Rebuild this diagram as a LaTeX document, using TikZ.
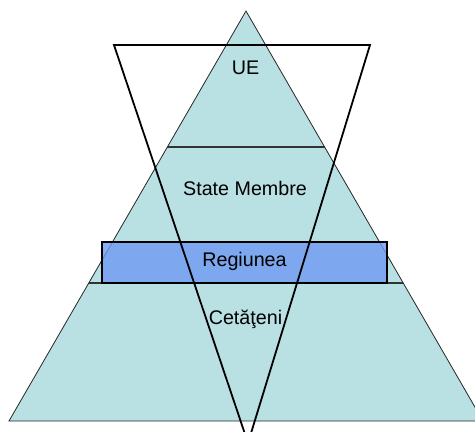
\documentclass[tikz,border=0pt]{standalone}
\usepackage{fontspec}
\setmainfont{Liberation Sans}
\usetikzlibrary{calc}
\definecolor{pyrfill}{HTML}{B9E0E3}
\definecolor{regfill}{HTML}{6F99F1}
\begin{document}
\begin{tikzpicture}[x=1pt,y=-1pt,
  layertext/.style={anchor=base,inner sep=0pt,font=\fontsize{19.7}{24}\selectfont},
  pyrline/.style={draw=black!85,line width=0.8pt},
  divline/.style={draw=black!80,line width=1.4pt},
  funnel/.style={draw=black,line width=1.8pt,line join=miter},
  regbox/.style={draw=black,line width=1.8pt,fill=regfill,fill opacity=0.8}]
  \clip (0,0) rectangle (475,432);
  % pyramid corners
  \coordinate (apex) at (246,11);
  \coordinate (bl) at (9,421);
  \coordinate (br) at (483,421);
  % funnel corners
  \coordinate (ftl) at (114,45);
  \coordinate (ftr) at (370,45);
  \coordinate (fbot) at (248,443);
  % pyramid body
  \fill[pyrfill] (apex) -- (bl) -- (br) -- cycle;
  \draw[pyrline] (apex) -- (bl) -- (br) -- cycle;
  % layer boundaries
  \coordinate (l1a) at ($(apex)!0.3317!(bl)$);
  \coordinate (l1b) at ($(apex)!0.3317!(br)$);
  \coordinate (l2a) at ($(apex)!0.6634!(bl)$);
  \coordinate (l2b) at ($(apex)!0.6634!(br)$);
  \draw[divline] (l1a) -- (l1b);
  \draw[divline] (l2a) -- (l2b);
  % regional band
  \path[regbox] (102,242) rectangle (387,283);
  % inverted funnel
  \draw[funnel] (ftl) -- (ftr) -- (fbot) -- cycle;
  % layer labels
  \node[layertext] (ue) at (245.5,74) {UE};
  \node[layertext] (stm) at (245,195) {State Membre};
  \node[layertext] (reg) at (244.5,266) {Regiunea};
  \node[layertext] (cet) at (245.5,324) {Cetăţeni};
\end{tikzpicture}
\end{document}
